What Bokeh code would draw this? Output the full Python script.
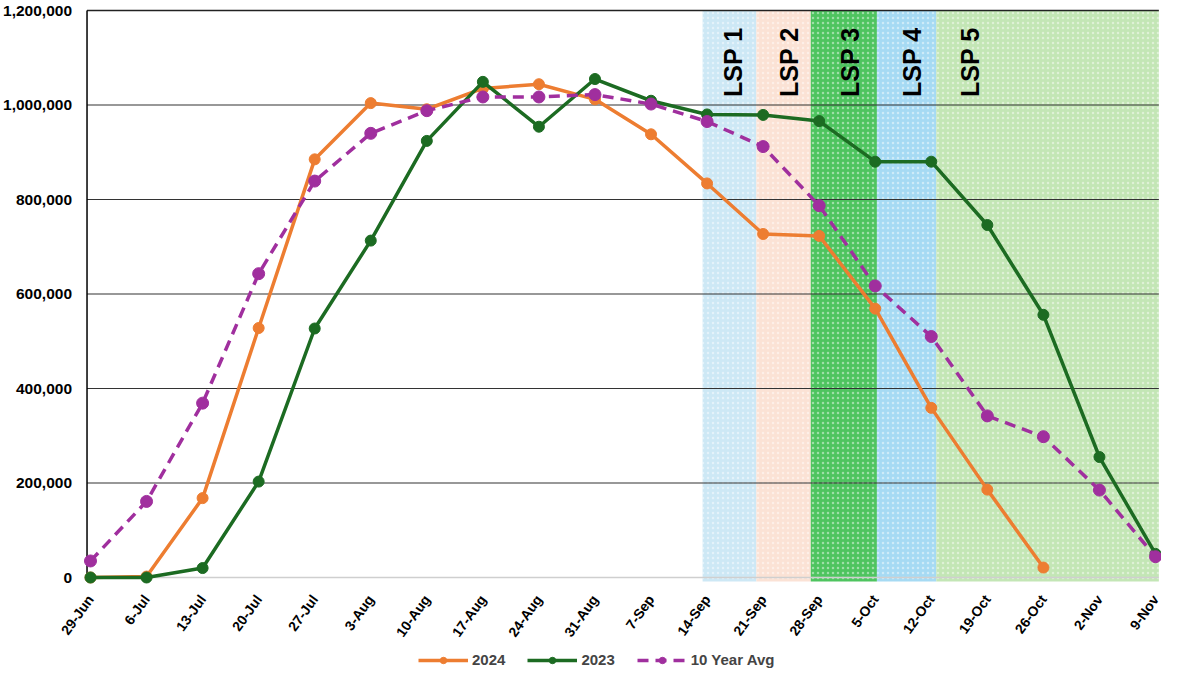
import math
from bokeh.plotting import figure
from bokeh.models import Range1d, Legend, LegendItem, ColumnDataSource
from bokeh.core.properties import value
from bokeh.embed import file_html
from bokeh.resources import INLINE

dates = ["29-Jun", "6-Jul", "13-Jul", "20-Jul", "27-Jul", "3-Aug", "10-Aug", "17-Aug",
         "24-Aug", "31-Aug", "7-Sep", "14-Sep", "21-Sep", "28-Sep", "5-Oct", "12-Oct",
         "19-Oct", "26-Oct", "2-Nov", "9-Nov"]

y2024 = [0, 2000, 168000, 528000, 885000, 1004000, 991000, 1035000, 1044000, 1012000,
         938000, 834000, 727000, 723000, 569000, 359000, 186000, 21000]
y2023 = [0, 0, 20000, 203000, 527000, 713000, 924000, 1049000, 954000, 1055000,
         1009000, 980000, 979000, 966000, 880000, 880000, 746000, 556000, 255000, 50000]
avg10 = [35000, 161000, 369000, 643000, 839000, 940000, 988000, 1017000, 1017000, 1022000,
         1002000, 965000, 912000, 787000, 617000, 510000, 342000, 298000, 185000, 44000]

lsp_labels = ["LSP 1", "LSP 2", "LSP 3", "LSP 4", "LSP 5"]
lsp_left = [10.92, 11.88, 12.85, 14.03, 15.09]
lsp_right = [11.88, 12.85, 14.03, 15.09, 19.06]
lsp_label_x = [11.31, 12.30, 13.39, 14.49, 15.53]
lsp_colors = ["#cde8f5", "#fbe2d5", "#4ec45f", "#a6daf3", "#c3e6b5"]

y_ticks = [0, 200000, 400000, 600000, 800000, 1000000, 1200000]
grid_ticks = [200000, 400000, 600000, 800000, 1000000]

FONT = "Liberation Sans"
W, H = 1161, 668

# plot-area geometry (in data units); the frame covers the whole figure so that the
# rotated date labels, value labels and legend can be drawn as text inside it
X0, X1 = -0.062, 19.06          # plot-area left/right edges
Y0, Y1 = 0, 1200000             # plot-area bottom/top
PX_X = 1065 / 19                # pixels per category step
PX_Y = 567 / 1200000            # pixels per unit value
x_start = -90 / PX_X
x_end = 19 + 6 / PX_X
y_end = Y1 + 10 / PX_Y
y_start = -(H - 577) / PX_Y

p = figure(width=W, height=H, output_backend="svg", toolbar_location=None,
           x_range=Range1d(x_start, x_end), y_range=Range1d(y_start, y_end),
           x_axis_location=None, y_axis_location=None,
           min_border_left=0, min_border_top=0, min_border_right=0, min_border_bottom=0)
p.outline_line_color = None
p.background_fill_color = "white"
p.border_fill_color = "white"
p.xgrid.visible = False
p.ygrid.visible = False

# LSP bands
band_bottom = -4 / PX_Y
p.quad(left=lsp_left, right=lsp_right, bottom=band_bottom, top=Y1,
       fill_color=lsp_colors, line_color=None, fill_alpha=1.0,
       hatch_pattern="dot", hatch_color="white", hatch_alpha=0.45, hatch_scale=5)

# horizontal grid lines
p.segment(x0=[X0] * len(grid_ticks), x1=[X1] * len(grid_ticks), y0=grid_ticks, y1=grid_ticks,
          line_color="#333333", line_width=1.2)
p.segment(x0=[X0], x1=[X1], y0=[Y0], y1=[Y0], line_color="#cfcfcf", line_width=1.5)
p.segment(x0=[X0], x1=[X1], y0=[Y1], y1=[Y1], line_color="#222222", line_width=1.6)
# left axis line
p.segment(x0=[X0], x1=[X0], y0=[Y0], y1=[Y1], line_color="black", line_width=1.5)

# value-axis labels
ysrc = ColumnDataSource(dict(x=[X0 - 15 / PX_X] * len(y_ticks), y=y_ticks,
                             t=[f"{v:,}" for v in y_ticks]))
p.text(x="x", y="y", text="t", source=ysrc, text_align="right", text_baseline="middle",
       text_font=value(FONT), text_font_style="bold", text_font_size="15.5px",
       text_color="black")

# LSP labels
lsp_x_anchor = [v + 9 / PX_X for v in lsp_label_x]
src_lsp = ColumnDataSource(dict(x=lsp_x_anchor, y=[1164000] * len(lsp_labels), t=lsp_labels))
p.text(x="x", y="y", text="t", source=src_lsp, angle=math.pi / 2,
       text_align="right", text_baseline="alphabetic", text_font=value(FONT),
       text_font_style="bold", text_font_size="25px", text_color="black")

x24 = list(range(len(y2024)))
x23 = list(range(len(y2023)))
xav = list(range(len(avg10)))

c24, c23, cav = "#ed7d31", "#1c6b22", "#a02f9e"
l24 = p.line(x24, y2024, line_color=c24, line_width=3.5)
s24 = p.scatter(x24, y2024, size=11, fill_color=c24, line_color=c24)
l23 = p.line(x23, y2023, line_color=c23, line_width=3.5)
s23 = p.scatter(x23, y2023, size=11, fill_color=c23, line_color=c23)
lav = p.line(xav, avg10, line_color=cav, line_width=3.5, line_dash="11 7")
sav = p.scatter(xav, avg10, size=12, fill_color=cav, line_color=cav)

# rotated date labels
xd = [i for i in range(len(dates))]
src_d = ColumnDataSource(dict(x=xd, y=[-19 / PX_Y] * len(dates), t=dates))
p.text(x="x", y="y", text="t", source=src_d, angle=0.95,
       text_align="right", text_baseline="middle", text_font=value(FONT),
       text_font_style="bold", text_font_size="14px", text_color="black")

legend = Legend(items=[LegendItem(label="2024", renderers=[l24, s24]),
                       LegendItem(label="2023", renderers=[l23, s23]),
                       LegendItem(label="10 Year Avg", renderers=[lav, sav])],
                orientation="horizontal", location=(418, 0),
                border_line_color=None, background_fill_alpha=0,
                label_text_font=FONT, label_text_font_style="bold",
                label_text_font_size="15px", glyph_width=50, glyph_height=16,
                spacing=22, padding=0, margin=0, label_standoff=4)
p.add_layout(legend, "center")

open("out.html", "w").write(file_html(p, INLINE))
